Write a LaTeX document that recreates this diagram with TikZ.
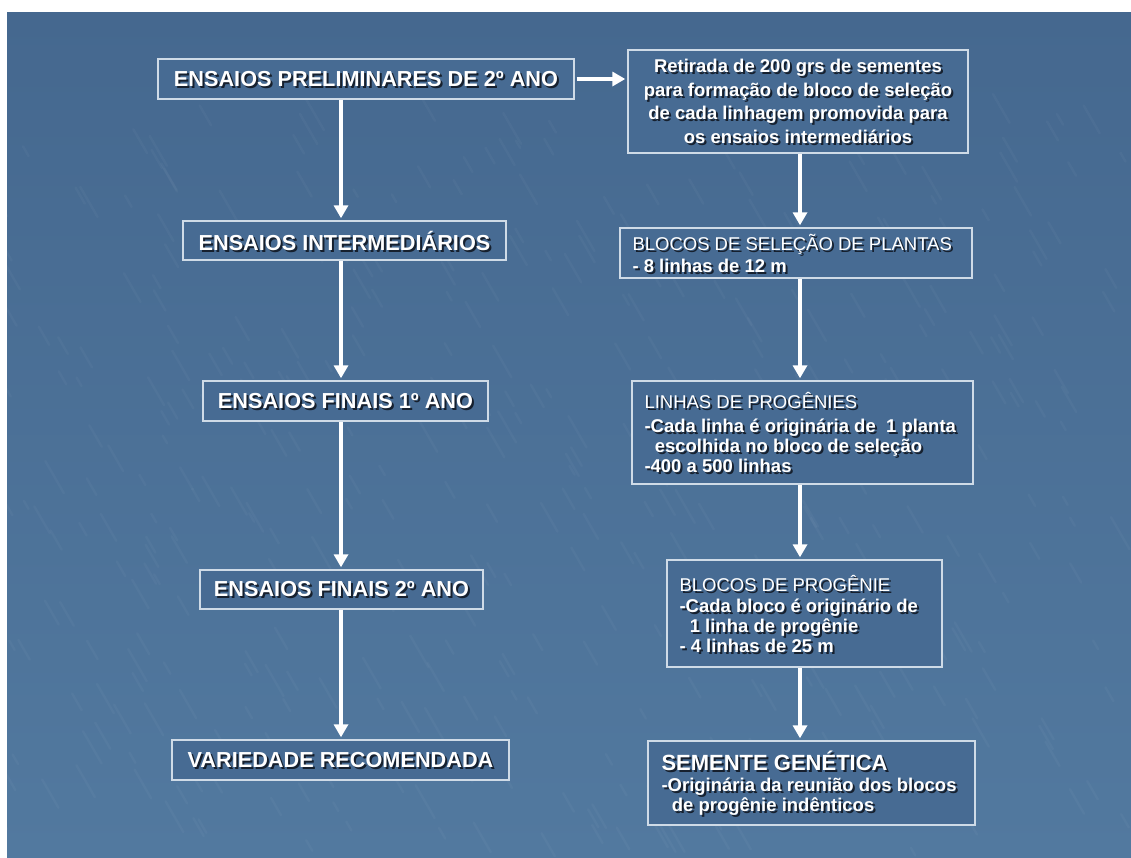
\documentclass[tikz,border=0pt]{standalone}
\usepackage{fontspec}
\setmainfont{Liberation Sans}
\usetikzlibrary{arrows.meta,calc}
\definecolor{bgtop}{HTML}{45688F}
\definecolor{bgbot}{HTML}{52799F}
\definecolor{boxfill}{HTML}{476B93}
\definecolor{boxline}{HTML}{CFDBE7}
\definecolor{shad}{HTML}{16202E}
\tikzset{
  box/.style={draw=boxline, line width=1.4pt, fill=boxfill, inner sep=0pt},
  ttl/.style={font=\fontsize{21.7}{24}\selectfont\bfseries, inner sep=0pt},
  body/.style={font=\fontsize{18.5}{20}\selectfont, inner sep=0pt, align=left},
  bodyc/.style={font=\fontsize{18.5}{23.5}\selectfont\bfseries, inner sep=0pt, align=center},
  arr/.style={draw=white, line width=3.6pt, -{Triangle[width=14pt,length=13pt]}, shorten >=2pt},
  streak/.style={white, line width=2.4pt, opacity=0.03, line cap=round},
}
\newcommand\flowbox[5]{\node[box, minimum width=#4pt, minimum height=#5pt] (#1) at (#2,#3) {};}
\newcommand\boxtext[4]{%
  \node[#2, text=shad, xshift=2pt, yshift=-2pt] (#1-sh) at (#3) {#4};
  \node[#2, text=white] (#1-tx) at (#3) {#4};}
\begin{document}
\begin{tikzpicture}[x=1pt,y=-1pt]
\useasboundingbox (0,0) rectangle (1131,857);
\fill[white] (0,0) rectangle (1131,857);
\shade[top color=bgtop, bottom color=bgbot] (7,12) rectangle (1131,857);
\pgfmathsetseed{7}
\begin{scope}
\clip (7,12) rectangle (1131,857);
\foreach \i in {1,...,420}{
  \pgfmathsetmacro{\px}{7+1124*rnd}
  \pgfmathsetmacro{\py}{120+737*rnd}
  \pgfmathsetmacro{\ln}{8+30*rnd}
  \draw[streak] (\px,\py) -- ++(60:-\ln);
}
\end{scope}

% left column
\flowbox{b1}{366}{79}{416}{40}
\flowbox{b2}{344.5}{240.5}{323}{39}
\flowbox{b3}{345.5}{401}{285}{40}
\flowbox{b4}{341.5}{589.5}{283}{39}
\flowbox{b5}{340.5}{760}{337}{40}
\boxtext{b1}{ttl}{b1.center}{ENSAIOS PRELIMINARES DE 2º ANO}
\boxtext{b2}{ttl}{b2.center}{ENSAIOS INTERMEDIÁRIOS}
\boxtext{b3}{ttl}{b3.center}{ENSAIOS FINAIS 1º ANO}
\boxtext{b4}{ttl}{b4.center}{ENSAIOS FINAIS 2º ANO}
\boxtext{b5}{ttl}{b5.center}{VARIEDADE RECOMENDADA}

% right column
\flowbox{r1}{798}{101.5}{340}{103}
\flowbox{r2}{796}{253}{352}{50}
\flowbox{r3}{802.5}{432.5}{341}{103}
\flowbox{r4}{804.5}{613.5}{275}{107}
\flowbox{r5}{811.5}{783}{327}{84}
\boxtext{r1}{bodyc}{r1.center}{Retirada de 200 grs de sementes\\para formação de bloco de seleção\\de cada linhagem promovida para\\os ensaios intermediários}
\boxtext{r2}{body, anchor=west}{$(r2.west)+(13,0)$}{BLOCOS DE SELEÇÃO DE PLANTAS\\[2pt]{\bfseries - 8 linhas de 12 m}}
\boxtext{r3}{body, anchor=west}{$(r3.west)+(13,0)$}{LINHAS DE PROGÊNIES\\[4pt]{\bfseries -Cada linha é originária de \ 1 planta}\\{\bfseries\ \ escolhida no bloco de seleção}\\{\bfseries -400 a 500 linhas}}
\boxtext{r4}{body, anchor=west}{$(r4.west)+(13,0)$}{BLOCOS DE PROGÊNIE\\[1pt]{\bfseries -Cada bloco é originário de}\\{\bfseries\ \ 1 linha de progênie}\\{\bfseries - 4 linhas de 25 m}}
\boxtext{r5}{body, anchor=west}{$(r5.west)+(14,0)$}{{\fontsize{22}{24}\selectfont\bfseries SEMENTE GENÉTICA}\\[1pt]{\bfseries -Originária da reunião dos blocos}\\{\bfseries\ \ de progênie indênticos}}

% connectors
\coordinate (colL) at (341,0);
\coordinate (colR) at (800,0);
\draw[arr] (b1.south -| colL) -- (b2.north -| colL);
\draw[arr] (b2.south -| colL) -- (b3.north -| colL);
\draw[arr] (b3.south -| colL) -- (b4.north -| colL);
\draw[arr] (b4.south -| colL) -- (b5.north -| colL);
\draw[arr, shorten <=2pt] (b1.east) -- (r1.west |- b1.east);
\draw[arr] (r1.south -| colR) -- (r2.north -| colR);
\draw[arr] (r2.south -| colR) -- (r3.north -| colR);
\draw[arr] (r3.south -| colR) -- (r4.north -| colR);
\draw[arr] (r4.south -| colR) -- (r5.north -| colR);
\end{tikzpicture}
\end{document}
